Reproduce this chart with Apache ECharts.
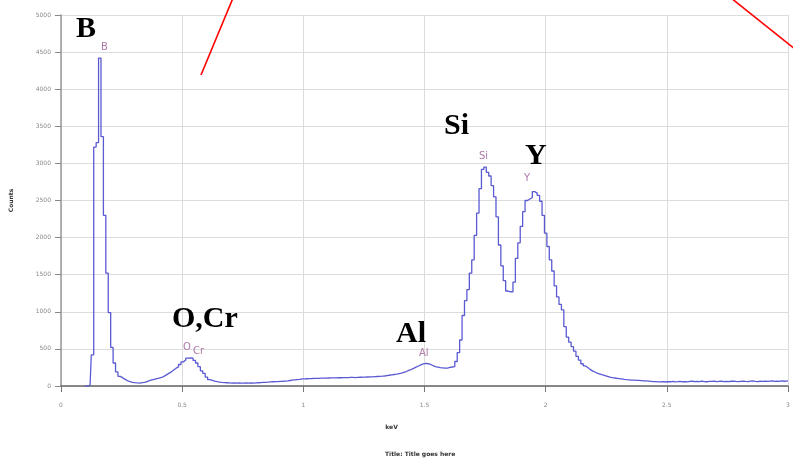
<!DOCTYPE html>
<html>
<head>
<meta charset="utf-8">
<script src="https://cdn.jsdelivr.net/npm/echarts@6/dist/echarts.min.js"></script>
<style>
  html, body { margin: 0; padding: 0; background: #fff; }
  #spectrum { width: 793px; height: 466px; }
</style>
</head>
<body>
<div id="spectrum"></div>
<script>
// EDS spectrum, one value per 0.01 keV channel starting at 0.10 keV
const energyStart = 0.1;
const channelWidth = 0.01;
const counts = [
  0, 0, 10, 420, 3220, 3280, 4420, 3360, 2300, 1520,        // 0.10
  990, 520, 310, 190, 130, 110, 90, 70, 58, 50,             // 0.20
  45, 42, 40, 45, 48, 60, 72, 82, 90, 98,                   // 0.30
  106, 115, 130, 150, 170, 190, 215, 240, 258, 290,         // 0.40
  325, 350, 377, 380, 375, 345, 310, 260, 205, 170,         // 0.50
  120, 85, 75, 65, 58, 52, 48, 45, 44, 42,                  // 0.60
  40, 41, 39, 42, 38, 40, 43, 39, 41, 40,                   // 0.70
  42, 44, 46, 48, 50, 52, 55, 57, 58, 60,                   // 0.80
  62, 64, 67, 70, 74, 78, 82, 86, 90, 95,                   // 0.90
  96, 98, 100, 101, 103, 104, 102, 105, 107, 106,           // 1.00
  108, 110, 109, 110, 112, 111, 113, 112, 114, 115,         // 1.10
  116, 114, 117, 118, 119, 120, 121, 122, 124, 126,         // 1.20
  128, 130, 132, 135, 140, 145, 150, 155, 160, 168,         // 1.30
  175, 185, 195, 210, 222, 238, 255, 270, 285, 298,         // 1.40
  305, 300, 290, 275, 262, 255, 248, 244, 240, 242,         // 1.50
  250, 256, 262, 330, 450, 620, 950, 1150, 1300, 1520,      // 1.60
  1700, 2030, 2330, 2660, 2920, 2950, 2880, 2830, 2700, 2550, // 1.70
  2280, 1900, 1620, 1420, 1280, 1270, 1270, 1400, 1720, 1930, // 1.80
  2150, 2350, 2500, 2520, 2540, 2620, 2600, 2570, 2490, 2300, // 1.90
  2060, 1880, 1700, 1550, 1350, 1200, 1100, 1025, 800, 660, // 2.00
  590, 530, 470, 400, 350, 300, 270, 245, 220, 200,         // 2.10
  185, 170, 160, 150, 140, 130, 120, 112, 108, 103,         // 2.20
  98, 95, 90, 86, 83, 80, 78, 76, 75, 73,                   // 2.30
  70, 68, 66, 63, 60, 58, 56, 55, 58, 54,                   // 2.40
  60, 57, 62, 56, 59, 63, 57, 60, 55, 61,                   // 2.50
  64, 58, 62, 59, 66, 60, 57, 63, 61, 65,                   // 2.60
  58, 62, 66, 60, 63, 59, 64, 67, 61, 58,                   // 2.70
  63, 66, 62, 60, 65, 68, 63, 59, 64, 62,                   // 2.80
  67, 61, 65, 69, 63, 66, 62, 68, 64, 67,                   // 2.90
  70                                                        // 3.00
];

const xTicks = [0, 0.5, 1, 1.5, 2, 2.5, 3];
const yTicks = [0, 500, 1000, 1500, 2000, 2500, 3000, 3500, 4000, 4500, 5000];

// big element labels + the small ones the software put at each peak
const bigLabels = [
  { text: "B", x: 76, y: 14 },
  { text: "O,Cr", x: 172, y: 304 },
  { text: "Al", x: 396, y: 319 },
  { text: "Si", x: 444, y: 111 },
  { text: "Y", x: 525, y: 141 },
];
const peakLabels = [
  { text: "B", x: 101, y: 42 },
  { text: "O", x: 183, y: 342 },
  { text: "Cr", x: 193, y: 346 },
  { text: "Al", x: 419, y: 348 },
  { text: "Si", x: 479, y: 151 },
  { text: "Y", x: 524, y: 173 },
];

const seriesData = counts.map((c, i) => [
  +(energyStart + i * channelWidth).toFixed(2),
  c,
]);

let myChart = echarts.init(document.getElementById("spectrum"));

const smallText = {
  fontFamily: "DejaVu Sans",
  fontSize: 6,
  color: "#888",
};

const graphics = [];
bigLabels.forEach((l) => {
  graphics.push({
    type: "text",
    left: l.x,
    top: l.y,
    z: 100,
    style: {
      text: l.text,
      font: "bold 30px 'Liberation Serif'",
      fill: "#000",
    },
  });
});
peakLabels.forEach((l) => {
  graphics.push({
    type: "text",
    left: l.x,
    top: l.y,
    z: 100,
    style: {
      text: l.text,
      font: "10px 'DejaVu Sans'",
      fill: "#b07aa8",
    },
  });
});
// red pointer lines drawn over the screenshot
graphics.push({
  type: "line",
  z: 100,
  shape: { x1: 233, y1: -2, x2: 201, y2: 75 },
  style: { stroke: "#ff0000", lineWidth: 1.6 },
});
graphics.push({
  type: "line",
  z: 100,
  shape: { x1: 731, y1: -2, x2: 795, y2: 49 },
  style: { stroke: "#ff0000", lineWidth: 1.6 },
});

const option = {
  animation: false,
  backgroundColor: "#fff",
  title: {
    text: "Title: Title goes here",
    left: 380,
    top: 446,
    textStyle: {
      fontFamily: "DejaVu Sans",
      fontSize: 6,
      fontWeight: "bold",
      color: "#333",
    },
  },
  grid: {
    left: 61,
    right: 5,
    top: 15,
    bottom: 80,
  },
  xAxis: {
    type: "value",
    min: xTicks[0],
    max: xTicks[xTicks.length - 1],
    interval: 0.5,
    name: "keV",
    nameLocation: "middle",
    nameGap: 38,
    nameTextStyle: {
      fontFamily: "DejaVu Sans",
      fontSize: 6,
      fontWeight: "bold",
      color: "#333",
      padding: [0, 66, 0, 0],
    },
    axisLine: { lineStyle: { color: "#666", width: 1.5 } },
    axisTick: { show: true, length: 6, lineStyle: { color: "#777" } },
    axisLabel: Object.assign({ margin: 16 }, smallText),
    splitLine: { show: true, lineStyle: { color: "#dcdcdc" } },
  },
  yAxis: {
    type: "value",
    min: yTicks[0],
    max: yTicks[yTicks.length - 1],
    interval: 500,
    name: "Counts",
    nameLocation: "middle",
    nameGap: 47,
    nameTextStyle: {
      fontFamily: "DejaVu Sans",
      fontSize: 6,
      fontWeight: "bold",
      color: "#333",
    },
    axisLine: { show: true, lineStyle: { color: "#999", width: 1.5 } },
    axisTick: { show: true, length: 6, lineStyle: { color: "#888" } },
    axisLabel: Object.assign(
      { margin: 10, formatter: (v) => String(v) },
      smallText
    ),
    splitLine: { show: true, lineStyle: { color: "#dcdcdc" } },
  },
  series: [
    {
      type: "line",
      step: "middle",
      showSymbol: false,
      data: seriesData,
      lineStyle: { color: "#5a5ad2", width: 1.3 },
    },
  ],
  graphic: graphics,
};

myChart.setOption(option);
</script>
</body>
</html>
